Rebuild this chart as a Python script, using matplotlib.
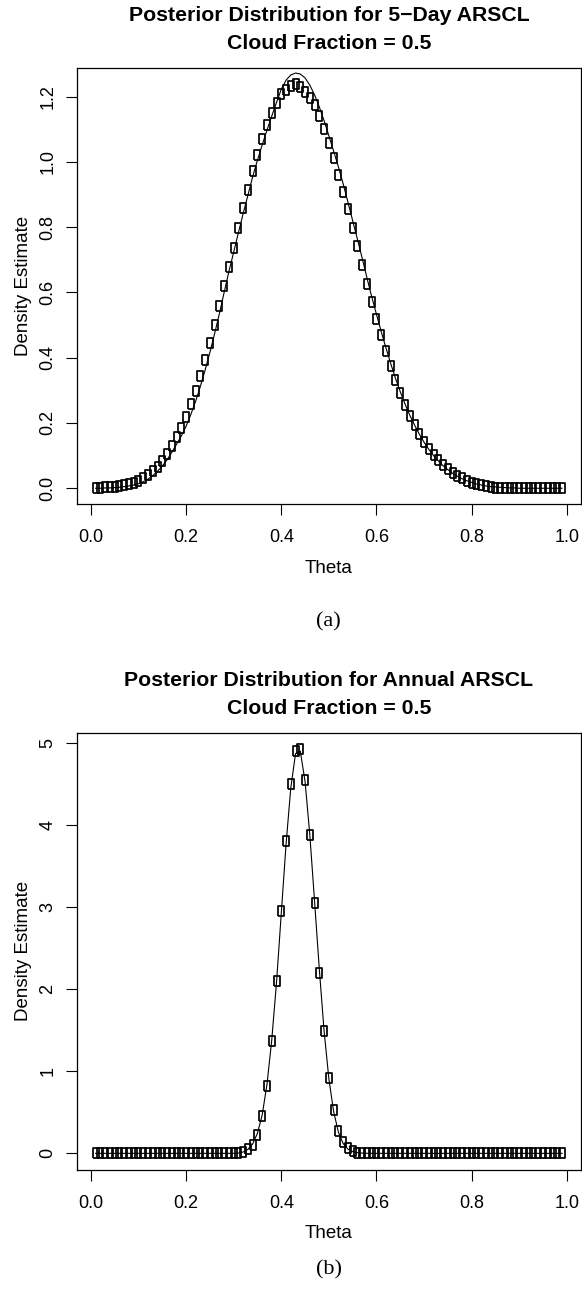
import numpy as np
import matplotlib
matplotlib.use("Agg")
import matplotlib.pyplot as plt

# ---------------- data ----------------
theta = np.round(np.arange(1, 100) / 100.0, 2)   # grid 0.01 ... 0.99

# Panel (a): 5-day ARSCL
dens_a_points = [
    0.002, 0.002, 0.003, 0.004, 0.005, 0.007, 0.009, 0.012, 0.016, 0.022,
    0.031, 0.041, 0.053, 0.066, 0.084, 0.105, 0.130, 0.156, 0.184, 0.219,
    0.257, 0.298, 0.345, 0.393, 0.446, 0.501, 0.559, 0.619, 0.678, 0.735,
    0.796, 0.857, 0.913, 0.971, 1.022, 1.071, 1.112, 1.150, 1.180, 1.207,
    1.221, 1.231, 1.237, 1.229, 1.214, 1.197, 1.173, 1.140, 1.099, 1.058,
    1.013, 0.961, 0.908, 0.854, 0.798, 0.742, 0.683, 0.627, 0.571, 0.520,
    0.469, 0.421, 0.374, 0.331, 0.291, 0.255, 0.222, 0.194, 0.166, 0.141,
    0.120, 0.102, 0.087, 0.071, 0.058, 0.047, 0.039, 0.030, 0.023, 0.017,
    0.013, 0.009, 0.006, 0.004, 0.002, 0.002, 0.001, 0.001, 0.001, 0.001,
    0.000, 0.000, 0.000, 0.000, 0.000, 0.000, 0.000, 0.000, 0.000,
]
dens_a_curve = [
    0.000, 0.000, 0.001, 0.001, 0.002, 0.003, 0.005, 0.007, 0.010, 0.014,
    0.020, 0.028, 0.039, 0.052, 0.068, 0.087, 0.110, 0.135, 0.160, 0.190,
    0.226, 0.266, 0.312, 0.362, 0.416, 0.474, 0.535, 0.600, 0.664, 0.723,
    0.783, 0.842, 0.898, 0.955, 1.005, 1.052, 1.097, 1.140, 1.182, 1.222,
    1.250, 1.266, 1.272, 1.269, 1.257, 1.235, 1.205, 1.168, 1.126, 1.080,
    1.033, 0.985, 0.933, 0.877, 0.820, 0.763, 0.705, 0.645, 0.587, 0.533,
    0.480, 0.430, 0.382, 0.337, 0.296, 0.258, 0.224, 0.194, 0.166, 0.141,
    0.119, 0.100, 0.084, 0.069, 0.057, 0.046, 0.037, 0.029, 0.023, 0.018,
    0.013, 0.010, 0.007, 0.005, 0.004, 0.003, 0.002, 0.001, 0.001, 0.000,
    0.000, 0.000, 0.000, 0.000, 0.000, 0.000, 0.000, 0.000, 0.000,
]

# Panel (b): Annual ARSCL
dens_b_points = (
    [0.0] * 30 +
    [0.003, 0.020, 0.053, 0.105, 0.227, 0.450, 0.822, 1.373, 2.10, 2.95,
     3.80, 4.50, 4.90, 4.92, 4.55, 3.88, 3.05, 2.20, 1.486, 0.919,
     0.527, 0.275, 0.134, 0.061, 0.024, 0.008, 0.003, 0.001] +
    [0.0] * 41
)
dens_b_curve = (
    [0.0] * 30 +
    [0.004, 0.016, 0.048, 0.115, 0.245, 0.47, 0.84, 1.38, 2.08, 2.92,
     3.76, 4.45, 4.87, 4.90, 4.53, 3.88, 3.07, 2.24, 1.49, 0.91,
     0.51, 0.26, 0.12, 0.052, 0.021, 0.008, 0.003, 0.001] +
    [0.0] * 41
)

titles = ["Posterior Distribution for 5\u2212Day ARSCL",
          "Posterior Distribution for Annual ARSCL"]
subtitle = "Cloud Fraction = 0.5"
panel_tags = ["(a)", "(b)"]
xticks = [0.0, 0.2, 0.4, 0.6, 0.8, 1.0]
xticklabels = ["0.0", "0.2", "0.4", "0.6", "0.8", "1.0"]
yticks_a = [0.0, 0.2, 0.4, 0.6, 0.8, 1.0, 1.2]
yticklabels_a = ["0.0", "0.2", "0.4", "0.6", "0.8", "1.0", "1.2"]
yticks_b = [0, 1, 2, 3, 4, 5]
yticklabels_b = ["0", "1", "2", "3", "4", "5"]

# ---------------- figure ----------------
plt.rcParams["font.family"] = ["Liberation Sans", "DejaVu Sans"]
W, H = 582, 1290
fig = plt.figure(figsize=(W / 100, H / 100), dpi=100)

rect_marker = [(-0.25, -0.5), (0.25, -0.5), (0.25, 0.5), (-0.25, 0.5), (-0.25, -0.5)]

def px_axes(left, top, right, bottom):
    return [left / W, 1 - bottom / H, (right - left) / W, (bottom - top) / H]

def r_lim(lo, hi):
    d = (hi - lo) * 0.04
    return lo - d, hi + d

panels = [
    dict(box=(77, 68.3, 580.7, 504.4), pts=dens_a_points, cur=dens_a_curve,
         yt=yticks_a, ytl=yticklabels_a, tag_off=117),
    dict(box=(77, 733.3, 580.7, 1169.5), pts=dens_b_points, cur=dens_b_curve,
         yt=yticks_b, ytl=yticklabels_b, tag_off=100),
]

for i, p in enumerate(panels):
    left, top, right, bottom = p["box"]
    ax = fig.add_axes(px_axes(left, top, right, bottom))
    ax.plot(theta, p["pts"], linestyle="none", marker=rect_marker,
            markersize=7.8, markerfacecolor="none", markeredgecolor="black",
            markeredgewidth=1.25)
    ax.plot(theta, p["cur"], color="black", linewidth=0.8)
    ax.set_xlim(*r_lim(min(theta), max(theta)))
    ymax = max(max(p["pts"]), 0)
    ax.set_ylim(*r_lim(0.0, ymax))
    ax.set_xticks(xticks)
    ax.set_xticklabels(xticklabels)
    ax.set_yticks(p["yt"])
    ax.set_yticklabels(p["ytl"], rotation=90, va="center")
    ax.tick_params(direction="out", length=8, width=0.8, labelsize=13,
                   colors="black")
    ax.tick_params(axis="x", pad=10)
    ax.tick_params(axis="y", pad=7)
    for s in ax.spines.values():
        s.set_linewidth(0.9)
    ax.set_xlabel("Theta", fontsize=13.5, labelpad=10)
    ax.set_ylabel("Density Estimate", fontsize=13.5, labelpad=5)
    cx = (left + right) / 2 / W
    fig.text(cx, 1 - (top - 47) / H, titles[i], ha="center", va="baseline",
             fontsize=15.3, fontweight="bold")
    fig.text(cx, 1 - (top - 19) / H, subtitle, ha="center", va="baseline",
             fontsize=15.3, fontweight="bold")
    fig.text(cx, 1 - (bottom + p["tag_off"]) / H, panel_tags[i], ha="center",
             va="center", fontsize=16, family=["Liberation Serif", "DejaVu Serif"])

fig.savefig("out.png", dpi=100, facecolor="white")
